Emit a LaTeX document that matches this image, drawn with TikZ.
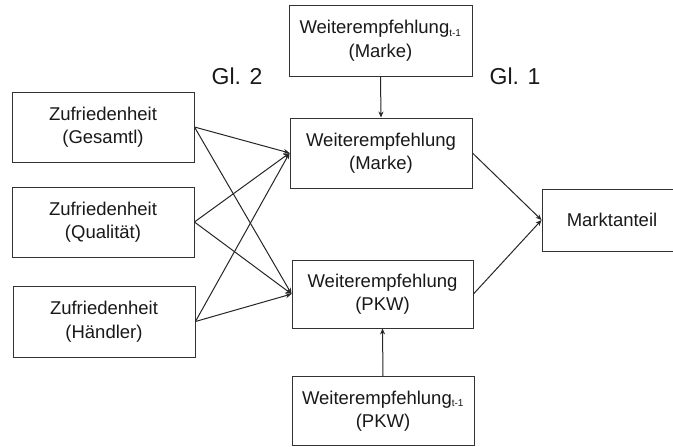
\documentclass[tikz,border=0pt]{standalone}
\usepackage{fontspec}
\setmainfont{Liberation Sans}
\usetikzlibrary{arrows.meta}
\tikzset{
  box/.style={draw=black!80, line width=0.9pt, fill=white, inner sep=0pt, align=center,
    font=\fontsize{18.5}{23.5}\selectfont, text=black!90},
  conn/.style={draw=black!85, line width=1pt, -{Stealth[length=6pt,width=5pt]}},
  lbl/.style={font=\fontsize{23}{26}\selectfont, text=black!90, inner sep=0pt}
}
\newcommand{\sub}[1]{\textsubscript{\fontsize{10}{10}\selectfont #1}}
\begin{document}
\begin{tikzpicture}[x=1pt,y=-1pt]
\useasboundingbox (0,0) rectangle (673,447);
\clip (0,0) rectangle (673,447);
\node[box, minimum width=182pt, minimum height=70pt] (g) at (103,127) {Zufriedenheit\\(Gesamtl)};
\node[box, minimum width=182pt, minimum height=70pt] (q) at (103,222) {Zufriedenheit\\(Qualität)};
\node[box, minimum width=182pt, minimum height=71pt] (h) at (104,321.5) {Zufriedenheit\\(Händler)};
\node[box, minimum width=183pt, minimum height=71pt] (wmp) at (380.5,40.5) {Weiterempfehlung\sub{t-1}\\(Marke)};
\node[box, minimum width=182pt, minimum height=70pt] (wm) at (381,153) {Weiterempfehlung\\(Marke)};
\node[box, minimum width=181pt, minimum height=68pt] (wp) at (382.5,294) {Weiterempfehlung\\(PKW)};
\node[box, minimum width=182pt, minimum height=69pt] (wpp) at (383,411) {Weiterempfehlung\sub{t-1}\\(PKW)};
\node[box, minimum width=140pt, minimum height=62pt, text width=138pt] (mk) at (612,220) {Marktanteil};
\node[lbl] (gl2) at (237,76) {Gl. 2};
\node[lbl] (gl1) at (515,76) {Gl. 1};
\draw[conn] (g.east) -- (wm.west);
\draw[conn] (g.east) -- (wp.west);
\draw[conn] (q.east) -- (wm.west);
\draw[conn] (q.east) -- (wp.west);
\draw[conn] (h.east) -- (wm.west);
\draw[conn] (h.east) -- (wp.west);
\draw[conn] (wmp.south) -- (wm.north);
\draw[conn] (wpp.north) -- (wp.south);
\draw[conn] (wm.east) -- (mk.west);
\draw[conn] (wp.east) -- (mk.west);
\end{tikzpicture}
\end{document}
